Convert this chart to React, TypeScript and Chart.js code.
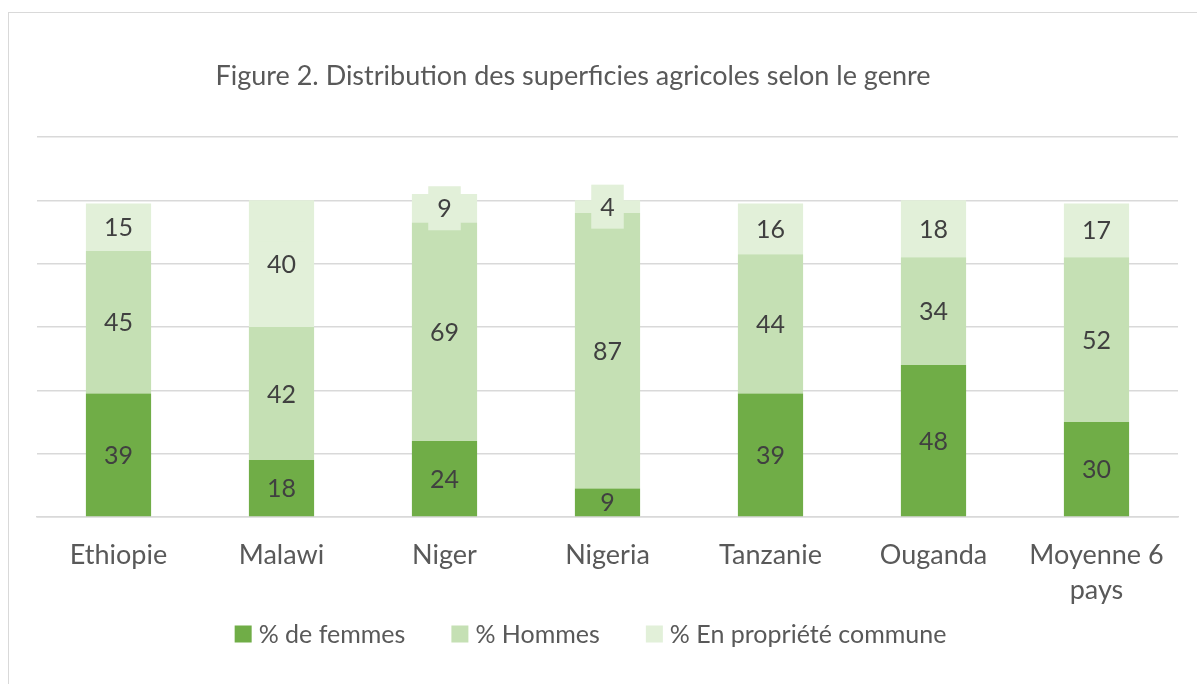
import React, { useEffect, useRef } from "react";
import { Chart, registerables } from "chart.js";

Chart.register(...registerables);

const categories: (string | string[])[] = [
  "Ethiopie",
  "Malawi",
  "Niger",
  "Nigeria",
  "Tanzanie",
  "Ouganda",
  ["Moyenne 6", "pays"],
];
const femmes = [39, 18, 24, 9, 39, 48, 30];
const hommes = [45, 42, 69, 87, 44, 34, 52];
const commune = [15, 40, 9, 4, 16, 18, 17];
const seriesLabels = ["% de femmes", "% Hommes", "% En propriété commune"];
const seriesColors = ["#70AD47", "#C5E0B4", "#E2F0D9"];
const titleText = "Figure 2. Distribution des superficies agricoles selon le genre";

const FONT = "Lato, 'Noto Sans', sans-serif";

const W = 1188;
const H = 671;

const overlayPlugin = {
  id: "overlay",
  afterDatasetsDraw(chart: any) {
    const ctx = chart.ctx;
    ctx.save();
    ctx.font = `25px ${FONT}`;
    ctx.textAlign = "center";
    ctx.textBaseline = "middle";
    const n = chart.data.datasets.length;
    chart.data.datasets.forEach((ds: any, di: number) => {
      const meta = chart.getDatasetMeta(di);
      meta.data.forEach((el: any, i: number) => {
        const v = ds.data[i];
        const cx = el.x;
        const cy = (el.y + el.base) / 2;
        const txt = String(v);
        if (di === n - 1) {
          const tw = ctx.measureText(txt).width;
          ctx.fillStyle = ds.backgroundColor;
          ctx.fillRect(cx - tw / 2 - 9, cy - 22, tw + 18, 44);
        }
        ctx.fillStyle = "#404040";
        ctx.fillText(txt, cx, cy + 1);
      });
    });
    ctx.restore();
  },
  afterDraw(chart: any) {
    const ctx = chart.ctx;
    ctx.save();
    // title
    ctx.font = `27px ${FONT}`;
    ctx.fillStyle = "#595959";
    ctx.textAlign = "center";
    ctx.textBaseline = "middle";
    ctx.fillText(titleText, 564, 63);
    // legend
    ctx.font = `25px ${FONT}`;
    const box = 17;
    const gap = 7;
    const itemGap = 46;
    const widths = chart.data.datasets.map(
      (d: any) => box + gap + ctx.measureText(d.label).width
    );
    const total = widths.reduce((a: number, b: number) => a + b, 0) + itemGap * (widths.length - 1);
    let x = 581.5 - total / 2;
    const cy = 621;
    ctx.textAlign = "left";
    chart.data.datasets.forEach((d: any, i: number) => {
      ctx.fillStyle = d.backgroundColor;
      ctx.fillRect(x, cy - box / 2, box, box);
      ctx.fillStyle = "#595959";
      ctx.fillText(d.label, x + box + gap, cy + 1);
      x += widths[i] + itemGap;
    });
    ctx.restore();
  },
};

export default function App() {
  const ref = useRef<HTMLCanvasElement>(null);
  useEffect(() => {
    if (!ref.current) return;
    const data = [femmes, hommes, commune];
    const chart = new Chart(ref.current, {
      type: "bar",
      data: {
        labels: categories,
        datasets: data.map((d, i) => ({
          label: seriesLabels[i],
          data: d,
          backgroundColor: seriesColors[i],
          borderColor: "#ffffff",
          borderWidth: 0,
          categoryPercentage: 0.4,
          barPercentage: 1,
        })),
      },
      options: {
        animation: false,
        responsive: false,
        layout: { padding: { left: 28, right: 19, top: 124, bottom: 67 } },
        plugins: {
          legend: { display: false },
          title: { display: false },
          tooltip: { enabled: false },
        },
        scales: {
          x: {
            stacked: true,
            grid: { display: false, drawTicks: false },
            border: { display: true, color: "#d9d9d9", width: 1.5 },
            ticks: {
              color: "#595959",
              font: { family: FONT, size: 27, lineHeight: 1.3 },
              padding: 21,
              maxRotation: 0,
              autoSkip: false,
            },
            afterFit: (s: any) => {
              s.height = 100;
            },
          },
          y: {
            stacked: true,
            min: 0,
            max: 120,
            ticks: { display: false, stepSize: 20 },
            grid: { color: "#d9d9d9", lineWidth: 1.5, drawTicks: false },
            border: { display: false },
            afterFit: (s: any) => {
              s.width = 0;
            },
          },
        },
      },
      plugins: [overlayPlugin],
    });
    return () => chart.destroy();
  }, []);
  return (
    <div
      style={{
        position: "fixed",
        left: 8,
        top: 12,
        width: 1189,
        height: 672,
        borderTop: "1px solid #d9d9d9",
        borderLeft: "1px solid #d9d9d9",
        background: "#fff",
      }}
    >
      <canvas ref={ref} width={W} height={H} style={{ display: "block" }} />
    </div>
  );
}
